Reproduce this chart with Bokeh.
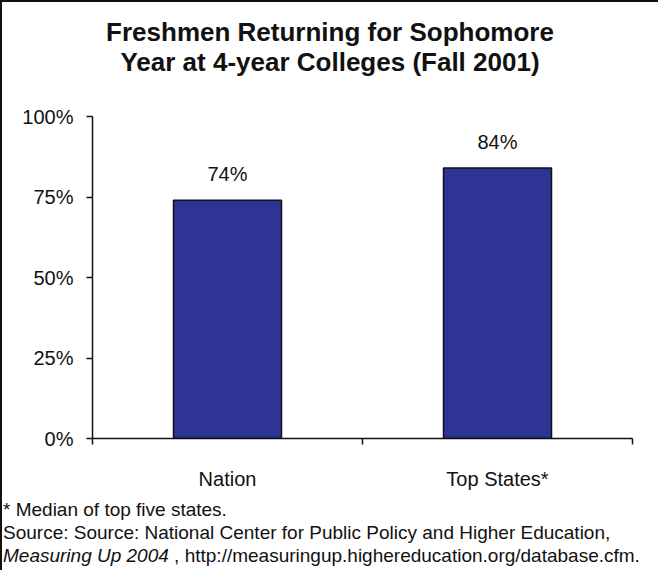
from bokeh.plotting import figure
from bokeh.models import (FactorRange, Range1d, LinearAxis, CategoricalAxis, Div,
                          FixedTicker, NumeralTickFormatter, ColumnDataSource)
from bokeh.layouts import column
from bokeh.core.properties import value
from bokeh.embed import file_html
from bokeh.resources import INLINE

# ---- data ----
categories = ["Nation", "Top States*"]
values = [0.74, 0.84]
value_labels = ["74%", "84%"]
y_ticks = [0, 0.25, 0.5, 0.75, 1.0]
title_lines = ["Freshmen Returning for Sophomore", "Year at 4-year Colleges (Fall 2001)"]
footnote = "* Median of top five states."
source_line = "Source: Source: National Center for Public Policy and Higher Education,"
source_italic = "Measuring Up 2004"
source_url = " , http://measuringup.highereducation.org/database.cfm."

FONT = "Liberation Sans"
BAR = "#2E3494"
INK = "#111111"

src = ColumnDataSource(dict(cat=categories, val=values, lab=value_labels))

title = Div(
    text=f"{title_lines[0]}<br>{title_lines[1]}",
    width=656, height=90, margin=(0, 0, 0, 0),
    styles={"font-family": FONT, "font-size": "26px", "font-weight": "bold",
            "line-height": "30px", "color": INK, "padding-top": "15px",
            "text-align": "center", "background": "white", "white-space": "nowrap",
            "width": "656px"})

p = figure(width=656, height=400, x_range=FactorRange(*categories, range_padding=0),
           y_range=Range1d(0, 1), output_backend="svg", toolbar_location=None,
           x_axis_location=None, y_axis_location=None,
           min_border_left=90, min_border_right=26, min_border_top=24, min_border_bottom=50)
p.outline_line_color = None
p.grid.visible = False
p.background_fill_color = "white"
p.border_fill_color = "white"

p.vbar(x="cat", top="val", width=0.4, source=src, fill_color=BAR,
       line_color=INK, line_width=1.5)

p.text(x="cat", y="val", text="lab", source=src, text_align="center",
       text_baseline="bottom", y_offset=-15, text_font_size="20px",
       text_color=INK, text_font=value(FONT))

# y axis
yax = LinearAxis(ticker=FixedTicker(ticks=y_ticks), formatter=NumeralTickFormatter(format="0%"))
yax.axis_line_color = INK
yax.axis_line_width = 1.5
yax.major_tick_line_color = INK
yax.major_tick_line_width = 1.5
yax.major_tick_out = 6
yax.major_tick_in = 0
yax.minor_tick_line_color = None
yax.major_label_text_font = FONT
yax.major_label_text_font_size = "20px"
yax.major_label_text_color = INK
yax.major_label_standoff = 13
p.add_layout(yax, "left")

# x axis line with ticks at the category boundaries (synthetic coordinates 0, 1, 2)
xline = LinearAxis(ticker=FixedTicker(ticks=[0, 1, 2]))
xline.axis_line_color = INK
xline.axis_line_width = 1.5
xline.major_tick_line_color = INK
xline.major_tick_line_width = 1.5
xline.major_tick_out = 6
xline.major_tick_in = 0
xline.minor_tick_line_color = None
xline.major_label_text_color = None
xline.major_label_text_font_size = "1px"
xline.major_label_standoff = 0
p.add_layout(xline, "below")

xcat = CategoricalAxis()
xcat.axis_line_color = None
xcat.major_tick_line_color = None
xcat.major_label_text_font = FONT
xcat.major_label_text_font_size = "20px"
xcat.major_label_text_color = INK
xcat.major_label_standoff = 17
p.add_layout(xcat, "below")

notes = Div(
    text=(f"{footnote}<br>{source_line}<br><i>{source_italic}</i>{source_url}"),
    width=656, height=78, margin=(0, 0, 0, 0),
    styles={"font-family": FONT, "font-size": "19px", "line-height": "23px",
            "color": INK, "padding-top": "6px", "padding-left": "1px",
            "background": "white", "white-space": "nowrap"})

layout = column(title, p, notes, spacing=0,
                styles={"border-left": "2px solid #111", "border-top": "2px solid #111"})

open("out.html", "w").write(file_html(layout, INLINE))
